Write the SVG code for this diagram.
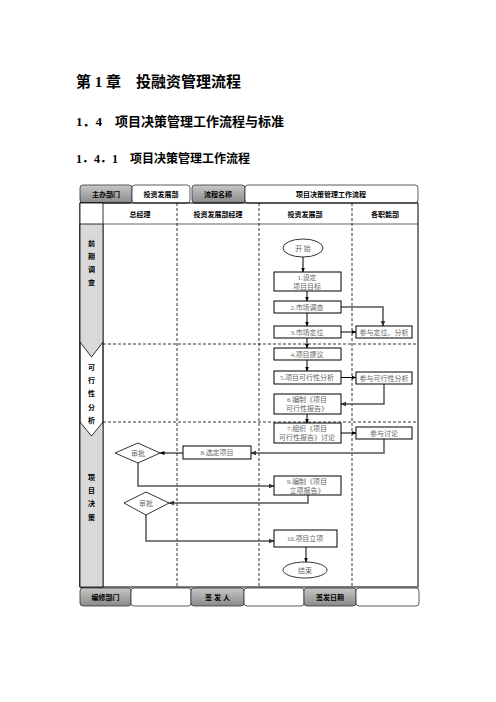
<svg xmlns="http://www.w3.org/2000/svg" width="496" height="702" viewBox="0 0 496 702">
<defs>
<linearGradient id="g" x1="0" y1="0" x2="0" y2="1">
<stop offset="0" stop-color="#c8c8c8"/><stop offset="0.5" stop-color="#a8a8a8"/><stop offset="1" stop-color="#8a8a8a"/>
</linearGradient>
<marker id="a" viewBox="0 0 10 10" refX="9" refY="5" markerWidth="5" markerHeight="5" orient="auto"><path d="M0,1 L10,5 L0,9 z" fill="#000"/></marker>
<marker id="ag" viewBox="0 0 10 10" refX="9" refY="5" markerWidth="4" markerHeight="4" orient="auto"><path d="M0,1 L10,5 L0,9 z" fill="#333"/></marker>
</defs>
<style>
.h1{font-family:"Liberation Serif","Noto Sans CJK SC",serif;font-weight:bold;fill:#000}
.hd{font-family:"Liberation Sans","Noto Sans CJK SC",sans-serif;font-weight:bold;font-size:7px;fill:#000;text-anchor:middle}
.t{font-family:"Liberation Serif","Noto Sans CJK SC",serif;font-size:7px;fill:#222;text-anchor:middle}
.tg{font-family:"Liberation Serif","Noto Sans CJK SC",serif;font-size:7px;fill:#666;text-anchor:middle}
.box{fill:#fff;stroke:#000;stroke-width:1}
.gc{fill:url(#g);stroke:#333;stroke-width:0.8}
.wc{fill:#fff;stroke:#333;stroke-width:0.8}
.dash{stroke:#000;stroke-width:0.8;stroke-dasharray:3,2;fill:none}
.ln{stroke:#000;stroke-width:1;fill:none;marker-end:url(#a)}
.lg{stroke:#555;stroke-width:1.5;fill:none;marker-end:url(#ag)}
</style>
<rect width="496" height="702" fill="#fff"/>
<text class="h1" x="76" y="87" font-size="15">第 1 章　投融资管理流程</text>
<text class="h1" x="76" y="126" font-size="13">1．4　项目决策管理工作流程与标准</text>
<text class="h1" x="76" y="163" font-size="12">1．4．1　项目决策管理工作流程</text>

<g id="header">
<rect class="gc" x="80" y="185" width="52" height="18" rx="3"/>
<text class="hd" x="106" y="197">主办部门</text>
<rect class="wc" x="132" y="185" width="58" height="18" rx="3"/>
<text class="hd" x="161" y="197">投资发展部</text>
<rect class="gc" x="192" y="185" width="53" height="18" rx="3"/>
<text class="hd" x="218" y="197">流程名称</text>
<rect class="wc" x="245" y="185" width="173" height="18" rx="3"/>
<text class="hd" x="331" y="197">项目决策管理工作流程</text>
</g>

<g id="frame">
<rect x="80" y="203" width="338" height="384" fill="none" stroke="#000" stroke-width="1"/>
<line x1="103" y1="224" x2="418" y2="224" stroke="#000" stroke-width="0.6"/>
<text class="hd" x="140" y="217">总经理</text>
<text class="hd" x="218" y="217">投资发展部经理</text>
<text class="hd" x="305" y="217">投资发展部</text>
<text class="hd" x="385" y="217">各职能部</text>
<line class="dash" x1="177" y1="203" x2="177" y2="587"/>
<line class="dash" x1="259" y1="203" x2="259" y2="587"/>
<line class="dash" x1="352" y1="203" x2="352" y2="587"/>
<line class="dash" x1="103" y1="344" x2="418" y2="344"/>
<line class="dash" x1="103" y1="422" x2="418" y2="422"/>
</g>

<g id="lane-bands">
<path d="M80,203 L103,203 L103,587 L80,587 z" fill="#fff" stroke="#000" stroke-width="0.8"/>
<path d="M80,224 L103,224 L103,342 L91.5,357 L80,342 z" fill="#d9d9d9" stroke="#000" stroke-width="0.8"/>
<path d="M80,422 L91.5,436 L103,422 L103,587 L80,587 z" fill="#d9d9d9" stroke="#000" stroke-width="0.8"/>
<path d="M80,342 L80,422 M103,342 L103,422" stroke="#000" stroke-width="0.8"/>
<text class="hd" x="91.5" y="246">前</text>
<text class="hd" x="91.5" y="259">期</text>
<text class="hd" x="91.5" y="272">调</text>
<text class="hd" x="91.5" y="285">查</text>
<text class="hd" x="91.5" y="370">可</text>
<text class="hd" x="91.5" y="383">行</text>
<text class="hd" x="91.5" y="396">性</text>
<text class="hd" x="91.5" y="410">分</text>
<text class="hd" x="91.5" y="423">析</text>
<text class="hd" x="91.5" y="480">项</text>
<text class="hd" x="91.5" y="493">目</text>
<text class="hd" x="91.5" y="506">决</text>
<text class="hd" x="91.5" y="520">策</text>
</g>

<g id="connectors">
<line class="ln" x1="303" y1="257" x2="303" y2="272"/>
<line class="ln" x1="307" y1="291" x2="307" y2="301"/>
<line class="ln" x1="307" y1="313" x2="307" y2="326"/>
<polyline class="lg" points="341,307 383,307 383,326"/>
<line class="ln" x1="341" y1="332" x2="356" y2="332"/>
<line class="ln" x1="307" y1="338" x2="307" y2="348"/>
<line class="ln" x1="307" y1="360" x2="307" y2="371"/>
<line class="ln" x1="341" y1="377.5" x2="356" y2="377.5"/>
<polyline class="lg" points="384,384 384,404 341,404"/>
<line class="ln" x1="307" y1="414" x2="307" y2="423"/>
<line class="ln" x1="341" y1="433" x2="356" y2="433"/>
<polyline class="lg" points="384,439 384,453 251,453"/>
<line class="ln" x1="183" y1="453" x2="160" y2="453"/>
<polyline class="lg" points="138,463 138,486 274,486"/>
<polyline class="lg" points="308,495 308,503 169,503"/>
<polyline class="lg" points="146,515 146,541 274,541"/>
<line class="ln" x1="306" y1="547" x2="306" y2="562"/>
</g>

<g id="n-start"><ellipse cx="303" cy="248" rx="20" ry="9" fill="#fff" stroke="#000" stroke-width="0.8"/><text class="tg" x="303" y="250.5">开 始</text></g>
<g id="n1"><rect class="box" x="274" y="272" width="67" height="19"/><text class="tg" x="307" y="280">1.设定</text><text class="tg" x="307" y="289">项目目标</text></g>
<g id="n2"><rect class="box" x="274" y="301" width="67" height="12"/><text class="tg" x="307" y="309.5">2.市场调查</text></g>
<g id="n3"><rect class="box" x="274" y="326" width="67" height="12"/><text class="tg" x="307" y="334.5">3.市场定位</text></g>
<g id="n3b"><rect class="box" x="356" y="326" width="56" height="12"/><text class="tg" x="384" y="334.5">参与定位、分析</text></g>
<g id="n4"><rect class="box" x="274" y="348" width="67" height="12"/><text class="tg" x="307" y="356.5">4.项目提议</text></g>
<g id="n5"><rect class="box" x="274" y="371" width="67" height="13"/><text class="tg" x="307" y="380">5.项目可行性分析</text></g>
<g id="n5b"><rect class="box" x="356" y="372" width="56" height="12"/><text class="tg" x="384" y="380.5">参与可行性分析</text></g>
<g id="n6"><rect class="box" x="274" y="394" width="67" height="20"/><text class="tg" x="307" y="402">6.编制《项目</text><text class="tg" x="307" y="411">可行性报告》</text></g>
<g id="n7"><rect class="box" x="274" y="423" width="67" height="20"/><text class="tg" x="307" y="431">7.组织《项目</text><text class="tg" x="307" y="440">可行性报告》讨论</text></g>
<g id="n7b"><rect class="box" x="356" y="427" width="56" height="12"/><text class="tg" x="384" y="435.5">参与讨论</text></g>
<g id="n8"><rect class="box" x="183" y="446" width="68" height="13"/><text class="tg" x="217" y="455">8.选定项目</text></g>
<g id="d1"><path d="M115,453 L138,443 L160,453 L138,463 z" fill="#fff" stroke="#000" stroke-width="0.8"/><text class="tg" x="138" y="455.5">审批</text></g>
<g id="n9"><rect class="box" x="274" y="476" width="67" height="19"/><text class="tg" x="307" y="484">9.编制《项目</text><text class="tg" x="307" y="493">立项报告》</text></g>
<g id="d2"><path d="M124,503 L146,492 L169,503 L146,515 z" fill="#fff" stroke="#000" stroke-width="0.8"/><text class="tg" x="146" y="505.5">审批</text></g>
<g id="n10"><rect class="box" x="274" y="530" width="63" height="17"/><text class="tg" x="305" y="541">10.项目立项</text></g>
<g id="n-end"><ellipse cx="305" cy="570" rx="22" ry="8" fill="#fff" stroke="#000" stroke-width="0.8"/><text class="tg" x="305" y="572.5">结束</text></g>

<g id="footer">
<rect class="gc" x="80" y="588" width="51" height="18" rx="3"/>
<text class="hd" x="105.5" y="600">编修部门</text>
<rect class="wc" x="131" y="588" width="60" height="18" rx="3"/>
<rect class="gc" x="191" y="588" width="53" height="18" rx="3"/>
<text class="hd" x="217.5" y="600">签 发 人</text>
<rect class="wc" x="244" y="588" width="60" height="18" rx="3"/>
<rect class="gc" x="304" y="588" width="52" height="18" rx="3"/>
<text class="hd" x="330" y="600">签发日期</text>
<rect class="wc" x="356" y="588" width="63" height="18" rx="3"/>
</g>
</svg>
